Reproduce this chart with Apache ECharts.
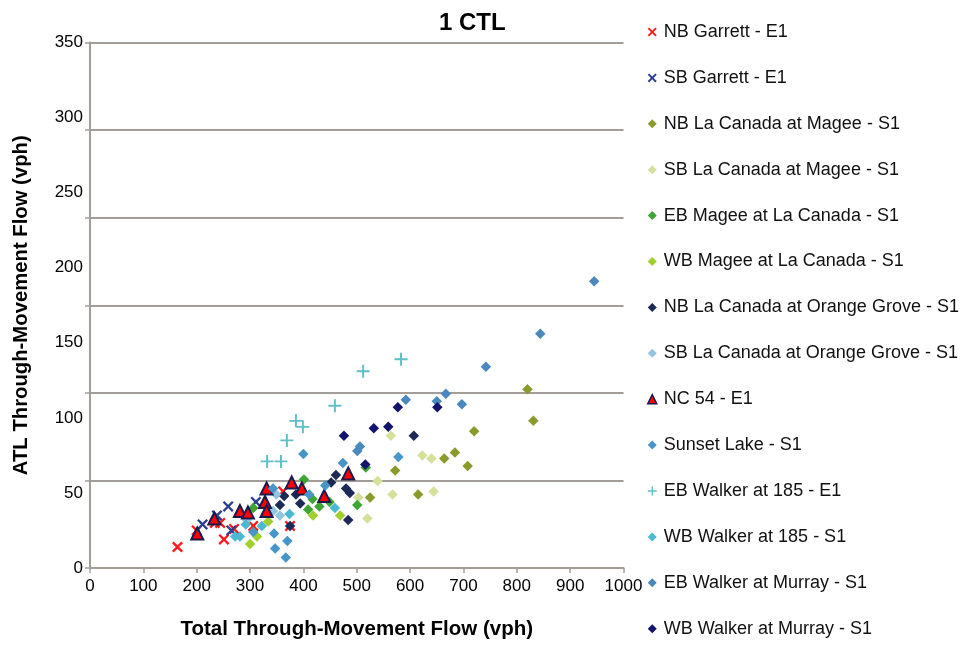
<!DOCTYPE html>
<html>
<head>
<meta charset="utf-8">
<script src="https://cdn.jsdelivr.net/npm/echarts@6/dist/echarts.min.js"></script>
<style>html,body{margin:0;padding:0;background:#fff;}#c{width:966px;height:646px;}</style>
</head>
<body>
<div id="c"></div>
<script>
const titleText = '1 CTL';
const xName = 'Total Through-Movement Flow (vph)';
const yName = 'ATL Through-Movement Flow (vph)';

const nbGarrett = [[164,14],[200,25],[234,30],[244,30],[251,19],[270,26],[306,28],[362,51],[375,28]];
const sbGarrett = [[211,29],[238,35],[259,41],[265,25],[311,44]];
const nbLaCanadaMagee = [[820,119],[831,98],[720,91],[684,77],[664,73],[708,68],[572,65],[615,49],[525,47]];
const sbLaCanadaMagee = [[564,88],[623,75],[640,73],[539,58],[567,49],[644,51],[503,47],[520,33]];
const ebMagee = [[401,59],[417,46],[409,39],[430,41],[449,44],[501,42],[517,67],[306,40]];
const wbMagee = [[418,35],[469,35],[300,16],[313,21],[334,31]];
const nbLaCanadaOG = [[607,88],[461,62],[452,57],[480,53],[487,50],[386,49],[364,48],[394,43],[356,42],[375,28],[484,32]];
const sbLaCanadaOG = [[349,49],[343,38],[294,32],[356,35]];
const nc54 = [[201,23],[233,33],[281,38],[296,37],[328,44],[331,38],[331,53],[378,57],[397,53],[439,48],[484,63]];
const sunsetLake = [[400,76],[474,70],[578,74],[441,55],[411,49],[343,53],[345,23],[347,13],[370,18],[367,7],[306,24]];
const ebWalker185 = [[332,71],[358,71],[369,85],[386,98],[399,94],[459,108],[512,131],[583,139]];
const wbWalker185 = [[459,40],[374,36],[322,28],[292,29],[272,21],[281,21]];
const ebWalkerMurray = [[945,191],[844,156],[742,134],[592,112],[650,111],[667,116],[697,109],[506,81],[501,78]];
const wbWalkerMurray = [[577,107],[651,107],[532,93],[559,94],[476,88],[516,69]];

const xTicks = {min:0, max:1000, interval:100};
const yLabelTicks = {min:0, max:350, interval:50};
const yGridTicks = {min:0, max:350, interval:350/6};

const XSYM = 'path://M0,1.5 L1.5,0 L5,3.5 L8.5,0 L10,1.5 L6.5,5 L10,8.5 L8.5,10 L5,6.5 L1.5,10 L0,8.5 L3.5,5 Z';
const PSYM = 'path://M4.25,0 H5.75 V4.25 H10 V5.75 H5.75 V10 H4.25 V5.75 H0 V4.25 H4.25 Z';

const seriesDefs = [
  {name:'NB Garrett - E1', data:nbGarrett, symbol:XSYM, size:11, color:'#ff1a1a'},
  {name:'SB Garrett - E1', data:sbGarrett, symbol:XSYM, size:11, color:'#2c3e8c'},
  {name:'NB La Canada at Magee - S1', data:nbLaCanadaMagee, symbol:'diamond', size:10.5, color:'#8a9b2c'},
  {name:'SB La Canada at Magee - S1', data:sbLaCanadaMagee, symbol:'diamond', size:10.5, color:'#d5e19b'},
  {name:'EB Magee at La Canada - S1', data:ebMagee, symbol:'diamond', size:10.5, color:'#3ea535'},
  {name:'WB Magee at La Canada - S1', data:wbMagee, symbol:'diamond', size:10.5, color:'#9fd02e'},
  {name:'NB La Canada at Orange Grove - S1', data:nbLaCanadaOG, symbol:'diamond', size:10.5, color:'#1c2a55'},
  {name:'SB La Canada at Orange Grove - S1', data:sbLaCanadaOG, symbol:'diamond', size:10.5, color:'#94c5de'},
  {name:'NC 54 - E1', data:nc54, symbol:'triangle', size:12, color:'#ff0000', border:'#1a1a4e'},
  {name:'Sunset Lake - S1', data:sunsetLake, symbol:'diamond', size:10.5, color:'#4895c8'},
  {name:'EB Walker at 185 - E1', data:ebWalker185, symbol:PSYM, size:13, color:'#5fbfc6'},
  {name:'WB Walker at 185 - S1', data:wbWalker185, symbol:'diamond', size:10.5, color:'#4cb9d3'},
  {name:'EB Walker at Murray - S1', data:ebWalkerMurray, symbol:'diamond', size:10.5, color:'#4a88bd'},
  {name:'WB Walker at Murray - S1', data:wbWalkerMurray, symbol:'diamond', size:10.5, color:'#14146c'}
];

const chart = echarts.init(document.getElementById('c'), null, {renderer:'canvas'});
const FONT = "'Liberation Sans', Arial, Helvetica, sans-serif";
const axisGray = '#a39d97';

chart.setOption({
  animation:false,
  backgroundColor:'#ffffff',
  textStyle:{fontFamily:FONT},
  title:{text:titleText, left:434, top:6,
    textStyle:{fontFamily:FONT, fontSize:24, fontWeight:'bold', color:'#000'}},
  grid:{left:90, top:42.5, width:533.5, height:525.5, containLabel:false},
  legend:{
    orient:'vertical', left:642, top:18, itemGap:27.9, itemWidth:9, itemHeight:9,
    textStyle:{fontFamily:FONT, fontSize:18, color:'#111', padding:[0,0,0,2]},
    data: seriesDefs.map(s => ({name:s.name, icon:s.symbol,
      itemStyle: s.border ? {color:s.color, borderColor:s.border, borderWidth:1.5} : {color:s.color}}))
  },
  xAxis:{
    type:'value', min:xTicks.min, max:xTicks.max, interval:xTicks.interval,
    name:xName, nameLocation:'middle', nameGap:51,
    nameTextStyle:{fontFamily:FONT, fontSize:20.5, fontWeight:'bold', color:'#000'},
    axisLine:{show:true, lineStyle:{color:axisGray, width:2}},
    axisTick:{show:true, length:5, lineStyle:{color:axisGray, width:1.5}},
    axisLabel:{fontFamily:FONT, fontSize:17, color:'#000', margin:10, formatter:v => String(v)},
    splitLine:{show:false}
  },
  yAxis:[
    {
      type:'value', min:yLabelTicks.min, max:yLabelTicks.max, interval:yLabelTicks.interval,
      name:yName, nameLocation:'middle', nameGap:59,
      nameTextStyle:{fontFamily:FONT, fontSize:20.3, fontWeight:'bold', color:'#000'},
      axisLine:{show:true, lineStyle:{color:axisGray, width:2}},
      axisTick:{show:false},
      axisLabel:{fontFamily:FONT, fontSize:17, color:'#000', margin:7, formatter:v => String(v)},
      splitLine:{show:false}
    },
    {
      type:'value', position:'left', min:yGridTicks.min, max:yGridTicks.max, interval:yGridTicks.interval,
      axisLine:{show:false},
      axisTick:{show:true, length:5, lineStyle:{color:axisGray, width:1.5}},
      axisLabel:{show:false},
      splitLine:{show:true, lineStyle:{color:axisGray, width:2}}
    }
  ],
  series: seriesDefs.map(s => ({
    type:'scatter', name:s.name, data:s.data, symbol:s.symbol, symbolSize:s.size,
    xAxisIndex:0, yAxisIndex:0,
    itemStyle: s.border ? {color:s.color, borderColor:s.border, borderWidth:2, opacity:1} : {color:s.color, opacity:1},
    emphasis:{disabled:true}
  }))
});
</script>
</body>
</html>
